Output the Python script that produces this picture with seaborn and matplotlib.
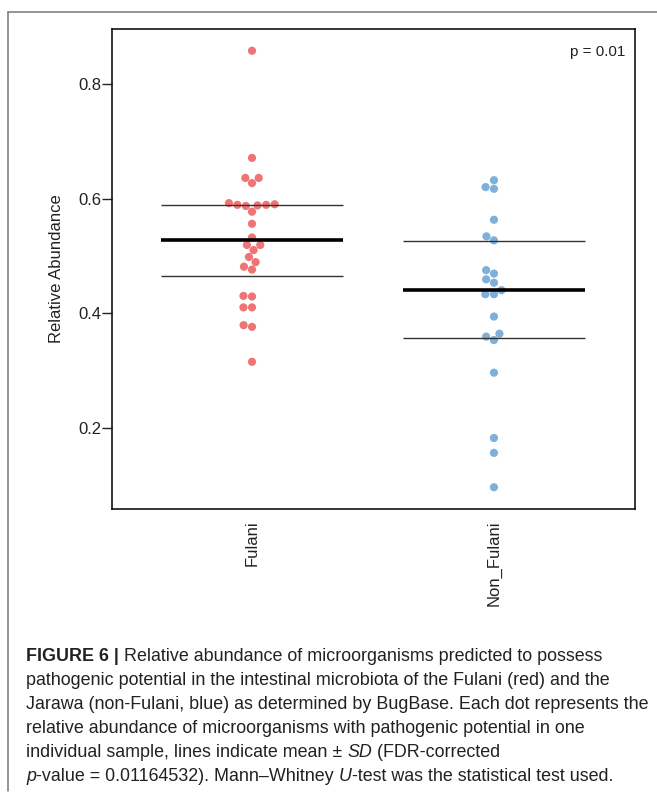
import matplotlib
matplotlib.use("Agg")
import matplotlib.pyplot as plt
import seaborn as sns
import pandas as pd
from matplotlib.lines import Line2D

# values
groups = ["Fulani", "Non_Fulani"]
fulani = [0.858, 0.671, 0.636, 0.636, 0.627, 0.592, 0.590, 0.589, 0.589, 0.588,
          0.587, 0.577, 0.556, 0.532, 0.519, 0.519, 0.510, 0.498, 0.489, 0.481,
          0.476, 0.430, 0.429, 0.410, 0.410, 0.379, 0.376, 0.315]
non_fulani = [0.632, 0.620, 0.617, 0.563, 0.534, 0.527, 0.475, 0.469, 0.459, 0.453,
              0.440, 0.433, 0.433, 0.394, 0.364, 0.359, 0.353, 0.296, 0.182, 0.156,
              0.096]
group_means = [0.527, 0.441]
group_sds = [0.062, 0.0845]
colors = ["#EF7475", "#7EB0DA"]
yticks = [0.2, 0.4, 0.6, 0.8]
p_label = "p = 0.01"

caption = [
    [("FIGURE 6 |", {"weight": "bold"}),
     (" Relative abundance of microorganisms predicted to possess", {})],
    [("pathogenic potential in the intestinal microbiota of the Fulani (red) and the", {})],
    [("Jarawa (non-Fulani, blue) as determined by BugBase. Each dot represents the", {})],
    [("relative abundance of microorganisms with pathogenic potential in one", {})],
    [("individual sample, lines indicate mean \u00b1 ", {}), ("SD", {"style": "italic"}),
     (" (FDR-corrected", {})],
    [("p", {"style": "italic"}), ("-value = 0.01164532). Mann\u2013Whitney ", {}),
     ("U", {"style": "italic"}), ("-test was the statistical test used.", {})],
]

df = pd.DataFrame({
    "group": ["Fulani"] * len(fulani) + ["Non_Fulani"] * len(non_fulani),
    "value": fulani + non_fulani,
})

sns.set_style("white")
plt.rcParams["font.family"] = ["Liberation Sans", "DejaVu Sans"]

W, H = 657, 798
fig = plt.figure(figsize=(W / 100, H / 100), dpi=100)
ax = fig.add_axes([111.7 / W, 1 - 509 / H, (635 - 111.7) / W, (509 - 29) / H])

sns.swarmplot(data=df, x="group", y="value", hue="group", order=groups,
              palette=colors, size=5.9, legend=False, ax=ax, zorder=2)

# mean +- SD lines
half = 0.377
for i, (m, s) in enumerate(zip(group_means, group_sds)):
    ax.hlines(m, i - half, i + half, color="black", lw=2.6, zorder=3)
    ax.hlines([m - s, m + s], i - half, i + half, color="#333333", lw=1.0, zorder=3)

ax.set_xlim(-0.580, 1.583)
ax.set_ylim(0.058, 0.896)
ax.set_yticks(yticks)
ax.set_yticklabels([f"{t:.1f}" for t in yticks])
ax.set_xlabel("")
ax.set_ylabel("Relative Abundance", fontsize=12, color="#222222", labelpad=10)
ax.tick_params(axis="y", direction="out", length=7, width=1.0, pad=0.5,
               labelsize=12, colors="#222222", left=True)
ax.tick_params(axis="x", length=0, pad=8, labelsize=12, labelcolor="#222222",
               labelrotation=90)
for sp in ax.spines.values():
    sp.set_visible(True)
    sp.set_color("black")
    sp.set_linewidth(1.1)
ax.text(0.982, 0.967, p_label, transform=ax.transAxes, ha="right", va="top",
        fontsize=11, color="#222222")

# frame of the figure card
fig.add_artist(Line2D([8 / W, 8 / W], [1 - 12 / H, 1 - 791 / H], color="#777777", lw=1.1))
fig.add_artist(Line2D([8 / W, 1.0], [1 - 12 / H, 1 - 12 / H], color="#777777", lw=1.1))

# caption, drawn run by run so bold / italic parts line up
renderer = fig.canvas.get_renderer()
base = 661
for k, line in enumerate(caption):
    x = 26 / W
    y = 1 - (base + 24 * k) / H
    for txt, kw in line:
        t = fig.text(x, y, txt, fontsize=12.9, color="#222222", va="baseline", **kw)
        x += t.get_window_extent(renderer=renderer).width / fig.bbox.width

fig.savefig("out.png", dpi=100)
